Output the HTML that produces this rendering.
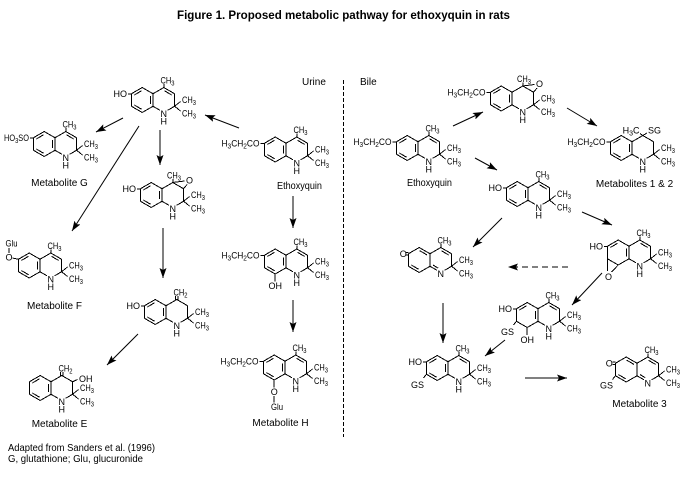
<!DOCTYPE html>
<html><head><meta charset="utf-8"><style>
html,body{margin:0;padding:0;background:#fff;}
svg{display:block;}
text{font-family:"Liberation Sans",Arial,sans-serif;font-size:9px;fill:#000;}
.s{font-size:7px;}
.l{font-size:10px;}
.b{fill:none;stroke:#000;stroke-width:1;shape-rendering:crispEdges;}
</style></head><body>
<svg width="690" height="501" viewBox="0 0 690 501" xmlns="http://www.w3.org/2000/svg">
<defs>
<marker id="ah" viewBox="0 0 10 7" refX="10" refY="3.5" markerWidth="10" markerHeight="7" markerUnits="userSpaceOnUse" orient="auto"><path d="M0,0L10,3.5L0,7L2,3.5z" fill="#000"/></marker>
<path id="bz" class="b" d="M0,-6.25L-10.8,-12.5L-21.6,-6.25L-21.6,6.25L-10.8,12.5L0,6.25Z M-11.3,-9.3L-18.6,-5.1 M-18.6,5.1L-11.3,9.3 M-2.5,-4.2V4.2"/>
<path id="bq" class="b" d="M0,-6.25L-10.8,-12.5L-21.6,-6.25L-21.6,6.25L-10.8,12.5L0,6.25Z M-10.3,-9.3L-3,-5.1 M-18.6,5.1L-11.3,9.3"/>
<path id="be" class="b" d="M0,-6.25L-10.8,-12.5L-21.6,-6.25L-21.6,6.25L-10.8,12.5L0,6.25Z M-11.3,-9.3L-18.6,-5.1 M-2.5,-4.2V4.2"/>
<path id="rd" class="b" d="M0,-6.25L10.8,-12.5L21.6,-6.25L21.6,6.25L14.7,10.25 M0,6.25L6.9,10.25 M11.3,-9.3L18.6,-5.1 M21.6,6.25L27.5,1.5 M21.6,6.25L27.5,11"/>
<path id="rt" class="b" d="M0,-6.25L10.8,-12.5L21.6,-6.25L21.6,6.25L14.7,10.25 M0,6.25L6.9,10.25 M21.6,6.25L27.5,1.5 M21.6,6.25L27.5,11"/>
<path id="rq" class="b" d="M0,-6.25L10.8,-12.5L21.6,-6.25L21.6,6.25L14.7,10.25 M0,6.25L6.9,10.25 M11.3,-9.3L18.6,-5.1 M3,5.1L8.2,8.1 M21.6,6.25L27.5,1.5 M21.6,6.25L27.5,11"/>
<path id="m4" class="b" d="M10.8,-12.5V-16"/>
<path id="c2" class="b" d="M9.6,-12V-16 M12,-12V-16"/>
<path id="o6" class="b" d="M-25,-6.25H-21.6"/>
<path id="e6" class="b" d="M-25.5,-6.25H-21.6"/>
</defs>
<rect width="690" height="501" fill="#fff"/>

<text x="177" y="19" font-weight="bold" style="font-size:11.5px" textLength="333" lengthAdjust="spacingAndGlyphs">Figure 1.  Proposed metabolic pathway for ethoxyquin in rats</text>

<text class="l" x="302" y="85">Urine</text>
<text class="l" x="360" y="85">Bile</text>
<path class="b" d="M343.5,80V437" stroke-dasharray="4 2"/>

<!-- arrows -->
<g class="b" marker-end="url(#ah)" style="shape-rendering:auto">
<path d="M239,128L205,115"/>
<path d="M123,118L96,132"/>
<path d="M139,126L72,231"/>
<path d="M160,130L160,165"/>
<path d="M163,228L163,278"/>
<path d="M138,334L107,365"/>
<path d="M293,196L293,228"/>
<path d="M293,300L293,332"/>
<path d="M453,126L483,112"/>
<path d="M567,108L597,126"/>
<path d="M475,158L497,170"/>
<path d="M582,212L612,225"/>
<path d="M502,218L473,247"/>
<path d="M568,267L508,267" stroke-dasharray="6 4"/>
<path d="M602,273L572,305"/>
<path d="M443,303L443,343"/>
<path d="M505,340L485,356"/>
<path d="M525,378L567,378"/>
</g>

<!-- U1 6-hydroxy (urine) -->
<g transform="translate(153,100)">
<use href="#bz"/><use href="#rd"/><use href="#m4"/><use href="#o6"/>
<text x="-26" y="-3" text-anchor="end">HO</text>
<text x="7.5" y="-16.5" textLength="14" lengthAdjust="spacingAndGlyphs">CH<tspan class="s" dy="2">3</tspan></text>
<text x="29" y="3" textLength="14" lengthAdjust="spacingAndGlyphs">CH<tspan class="s" dy="2">3</tspan></text>
<text x="29" y="16.3" textLength="14" lengthAdjust="spacingAndGlyphs">CH<tspan class="s" dy="2">3</tspan></text>
<text x="10.8" y="17" text-anchor="middle">N</text>
<text x="10.8" y="24.5" text-anchor="middle">H</text>
</g>

<!-- U2 Metabolite G -->
<g transform="translate(55,144)">
<use href="#bz"/><use href="#rd"/><use href="#m4"/><use href="#o6"/>
<text x="-51" y="-3" textLength="25" lengthAdjust="spacingAndGlyphs">HO<tspan class="s" dy="2">3</tspan><tspan dy="-2">SO</tspan></text>
<text x="7.5" y="-16.5" textLength="14" lengthAdjust="spacingAndGlyphs">CH<tspan class="s" dy="2">3</tspan></text>
<text x="29" y="3" textLength="14" lengthAdjust="spacingAndGlyphs">CH<tspan class="s" dy="2">3</tspan></text>
<text x="29" y="16.3" textLength="14" lengthAdjust="spacingAndGlyphs">CH<tspan class="s" dy="2">3</tspan></text>
<text x="10.8" y="17" text-anchor="middle">N</text>
<text x="10.8" y="24.5" text-anchor="middle">H</text>
</g>
<text class="l" x="59.5" y="186" text-anchor="middle">Metabolite  G</text>

<!-- U3 epoxide (urine) -->
<g transform="translate(162,195)">
<use href="#bz"/><use href="#rt"/><use href="#m4"/><use href="#o6"/>
<path class="b" d="M10.8,-12.5L22.5,-14M21.6,-6.25L25,-10.5"/>
<text x="27.5" y="-11.5" text-anchor="middle">O</text>
<text x="5" y="-16.5" textLength="14" lengthAdjust="spacingAndGlyphs">CH<tspan class="s" dy="2">3</tspan></text>
<text x="-26" y="-3" text-anchor="end">HO</text>
<text x="29" y="3" textLength="14" lengthAdjust="spacingAndGlyphs">CH<tspan class="s" dy="2">3</tspan></text>
<text x="29" y="16.3" textLength="14" lengthAdjust="spacingAndGlyphs">CH<tspan class="s" dy="2">3</tspan></text>
<text x="10.8" y="17" text-anchor="middle">N</text>
<text x="10.8" y="24.5" text-anchor="middle">H</text>
</g>

<!-- U4 Metabolite F -->
<g transform="translate(40,265.5)">
<use href="#bz"/><use href="#rd"/><use href="#m4"/>
<path class="b" d="M-27.5,-7.5L-21.6,-6.25 M-31,-12.5V-17.5"/>
<text x="-31" y="-5" text-anchor="middle">O</text>
<text x="-34.5" y="-19" textLength="12" lengthAdjust="spacingAndGlyphs">Glu</text>
<text x="7.5" y="-16.5" textLength="14" lengthAdjust="spacingAndGlyphs">CH<tspan class="s" dy="2">3</tspan></text>
<text x="29" y="3" textLength="14" lengthAdjust="spacingAndGlyphs">CH<tspan class="s" dy="2">3</tspan></text>
<text x="29" y="16.3" textLength="14" lengthAdjust="spacingAndGlyphs">CH<tspan class="s" dy="2">3</tspan></text>
<text x="10.8" y="17" text-anchor="middle">N</text>
<text x="10.8" y="24.5" text-anchor="middle">H</text>
</g>
<text class="l" x="54.5" y="309" text-anchor="middle">Metabolite  F</text>

<!-- U5 4-methylene (urine) -->
<g transform="translate(166,312)">
<use href="#bz"/><use href="#rt"/><use href="#c2"/><use href="#o6"/>
<text x="-26" y="-3" text-anchor="end">HO</text>
<text x="7.5" y="-16.5" textLength="14" lengthAdjust="spacingAndGlyphs">CH<tspan class="s" dy="2">2</tspan></text>
<text x="29" y="3" textLength="14" lengthAdjust="spacingAndGlyphs">CH<tspan class="s" dy="2">3</tspan></text>
<text x="29" y="16.3" textLength="14" lengthAdjust="spacingAndGlyphs">CH<tspan class="s" dy="2">3</tspan></text>
<text x="10.8" y="17" text-anchor="middle">N</text>
<text x="10.8" y="24.5" text-anchor="middle">H</text>
</g>

<!-- U6 Metabolite E -->
<g transform="translate(51,388)">
<use href="#bz"/><use href="#rt"/><use href="#c2"/>
<path class="b" d="M21.6,-6.25L26.5,-8.5"/>
<text x="28" y="-6">OH</text>
<text x="7.5" y="-16.5" textLength="14" lengthAdjust="spacingAndGlyphs">CH<tspan class="s" dy="2">2</tspan></text>
<text x="29" y="3" textLength="14" lengthAdjust="spacingAndGlyphs">CH<tspan class="s" dy="2">3</tspan></text>
<text x="29" y="16.3" textLength="14" lengthAdjust="spacingAndGlyphs">CH<tspan class="s" dy="2">3</tspan></text>
<text x="10.8" y="17" text-anchor="middle">N</text>
<text x="10.8" y="24.5" text-anchor="middle">H</text>
</g>
<text class="l" x="59.5" y="427" text-anchor="middle">Metabolite  E</text>

<!-- U7 Ethoxyquin (urine) -->
<g transform="translate(286,149.5)">
<use href="#bz"/><use href="#rd"/><use href="#m4"/><use href="#e6"/>
<text x="-64.5" y="-3" textLength="38" lengthAdjust="spacingAndGlyphs">H<tspan class="s" dy="2">3</tspan><tspan dy="-2">CH</tspan><tspan class="s" dy="2">2</tspan><tspan dy="-2">CO</tspan></text>
<text x="7.5" y="-16.5" textLength="14" lengthAdjust="spacingAndGlyphs">CH<tspan class="s" dy="2">3</tspan></text>
<text x="29" y="3" textLength="14" lengthAdjust="spacingAndGlyphs">CH<tspan class="s" dy="2">3</tspan></text>
<text x="29" y="16.3" textLength="14" lengthAdjust="spacingAndGlyphs">CH<tspan class="s" dy="2">3</tspan></text>
<text x="10.8" y="17" text-anchor="middle">N</text>
<text x="10.8" y="24.5" text-anchor="middle">H</text>
</g>
<text class="l" x="299.5" y="189" text-anchor="middle" textLength="45" lengthAdjust="spacingAndGlyphs">Ethoxyquin</text>

<!-- U8 8-hydroxy ethoxyquin -->
<g transform="translate(286,261.5)">
<use href="#bz"/><use href="#rd"/><use href="#m4"/><use href="#e6"/>
<path class="b" d="M-10.8,12.5V20"/>
<text x="-10.8" y="27.5" text-anchor="middle">OH</text>
<text x="-64.5" y="-3" textLength="38" lengthAdjust="spacingAndGlyphs">H<tspan class="s" dy="2">3</tspan><tspan dy="-2">CH</tspan><tspan class="s" dy="2">2</tspan><tspan dy="-2">CO</tspan></text>
<text x="7.5" y="-16.5" textLength="14" lengthAdjust="spacingAndGlyphs">CH<tspan class="s" dy="2">3</tspan></text>
<text x="29" y="3" textLength="14" lengthAdjust="spacingAndGlyphs">CH<tspan class="s" dy="2">3</tspan></text>
<text x="29" y="16.3" textLength="14" lengthAdjust="spacingAndGlyphs">CH<tspan class="s" dy="2">3</tspan></text>
<text x="10.8" y="17" text-anchor="middle">N</text>
<text x="10.8" y="24.5" text-anchor="middle">H</text>
</g>

<!-- U9 Metabolite H -->
<g transform="translate(285,367.5)">
<use href="#bz"/><use href="#rd"/><use href="#m4"/><use href="#e6"/>
<path class="b" d="M-10.8,12.5V20 M-10.8,28.5V35"/>
<text x="-10.8" y="27.5" text-anchor="middle">O</text>
<text x="-14" y="42.5" textLength="12" lengthAdjust="spacingAndGlyphs">Glu</text>
<text x="-64.5" y="-3" textLength="38" lengthAdjust="spacingAndGlyphs">H<tspan class="s" dy="2">3</tspan><tspan dy="-2">CH</tspan><tspan class="s" dy="2">2</tspan><tspan dy="-2">CO</tspan></text>
<text x="7.5" y="-16.5" textLength="14" lengthAdjust="spacingAndGlyphs">CH<tspan class="s" dy="2">3</tspan></text>
<text x="29" y="3" textLength="14" lengthAdjust="spacingAndGlyphs">CH<tspan class="s" dy="2">3</tspan></text>
<text x="29" y="16.3" textLength="14" lengthAdjust="spacingAndGlyphs">CH<tspan class="s" dy="2">3</tspan></text>
<text x="10.8" y="17" text-anchor="middle">N</text>
<text x="10.8" y="24.5" text-anchor="middle">H</text>
</g>
<text class="l" x="280.5" y="426" text-anchor="middle">Metabolite  H</text>

<!-- B1 Ethoxyquin (bile) -->
<g transform="translate(418,148)">
<use href="#bz"/><use href="#rd"/><use href="#m4"/><use href="#e6"/>
<text x="-64.5" y="-3" textLength="38" lengthAdjust="spacingAndGlyphs">H<tspan class="s" dy="2">3</tspan><tspan dy="-2">CH</tspan><tspan class="s" dy="2">2</tspan><tspan dy="-2">CO</tspan></text>
<text x="7.5" y="-16.5" textLength="14" lengthAdjust="spacingAndGlyphs">CH<tspan class="s" dy="2">3</tspan></text>
<text x="29" y="3" textLength="14" lengthAdjust="spacingAndGlyphs">CH<tspan class="s" dy="2">3</tspan></text>
<text x="29" y="16.3" textLength="14" lengthAdjust="spacingAndGlyphs">CH<tspan class="s" dy="2">3</tspan></text>
<text x="10.8" y="17" text-anchor="middle">N</text>
<text x="10.8" y="24.5" text-anchor="middle">H</text>
</g>
<text class="l" x="429.5" y="186" text-anchor="middle" textLength="45" lengthAdjust="spacingAndGlyphs">Ethoxyquin</text>

<!-- B2 epoxide (bile) -->
<g transform="translate(512,98.5)">
<use href="#bz"/><use href="#rt"/><use href="#m4"/><use href="#e6"/>
<path class="b" d="M10.8,-12.5L22.5,-14M21.6,-6.25L25,-10.5"/>
<text x="27.5" y="-11.5" text-anchor="middle">O</text>
<text x="-64.5" y="-3" textLength="38" lengthAdjust="spacingAndGlyphs">H<tspan class="s" dy="2">3</tspan><tspan dy="-2">CH</tspan><tspan class="s" dy="2">2</tspan><tspan dy="-2">CO</tspan></text>
<text x="5" y="-16.5" textLength="14" lengthAdjust="spacingAndGlyphs">CH<tspan class="s" dy="2">3</tspan></text>
<text x="29" y="3" textLength="14" lengthAdjust="spacingAndGlyphs">CH<tspan class="s" dy="2">3</tspan></text>
<text x="29" y="16.3" textLength="14" lengthAdjust="spacingAndGlyphs">CH<tspan class="s" dy="2">3</tspan></text>
<text x="10.8" y="17" text-anchor="middle">N</text>
<text x="10.8" y="24.5" text-anchor="middle">H</text>
</g>

<!-- B3 Metabolites 1 & 2 -->
<g transform="translate(632,148)">
<use href="#bz"/><use href="#rt"/><use href="#e6"/>
<path class="b" d="M10.8,-12.5L8,-14.5 M10.8,-12.5L15,-15"/>
<text x="7.5" y="-14.5" text-anchor="end">H<tspan class="s" dy="2">3</tspan><tspan dy="-2">C</tspan></text>
<text x="16" y="-14.5">SG</text>
<text x="-64.5" y="-3" textLength="38" lengthAdjust="spacingAndGlyphs">H<tspan class="s" dy="2">3</tspan><tspan dy="-2">CH</tspan><tspan class="s" dy="2">2</tspan><tspan dy="-2">CO</tspan></text>
<text x="29" y="3" textLength="14" lengthAdjust="spacingAndGlyphs">CH<tspan class="s" dy="2">3</tspan></text>
<text x="29" y="16.3" textLength="14" lengthAdjust="spacingAndGlyphs">CH<tspan class="s" dy="2">3</tspan></text>
<text x="10.8" y="17" text-anchor="middle">N</text>
<text x="10.8" y="24.5" text-anchor="middle">H</text>
</g>
<text class="l" x="634.5" y="187" text-anchor="middle">Metabolites  1 &amp; 2</text>

<!-- B4 6-hydroxy (bile) -->
<g transform="translate(528,194)">
<use href="#bz"/><use href="#rd"/><use href="#m4"/><use href="#o6"/>
<text x="-26" y="-3" text-anchor="end">HO</text>
<text x="7.5" y="-16.5" textLength="14" lengthAdjust="spacingAndGlyphs">CH<tspan class="s" dy="2">3</tspan></text>
<text x="29" y="3" textLength="14" lengthAdjust="spacingAndGlyphs">CH<tspan class="s" dy="2">3</tspan></text>
<text x="29" y="16.3" textLength="14" lengthAdjust="spacingAndGlyphs">CH<tspan class="s" dy="2">3</tspan></text>
<text x="10.8" y="17" text-anchor="middle">N</text>
<text x="10.8" y="24.5" text-anchor="middle">H</text>
</g>

<!-- B5 quinone imine -->
<g transform="translate(430,260)">
<use href="#bq"/><use href="#rq"/><use href="#m4"/>
<path class="b" d="M-24,-7.4H-21.6 M-24,-5.1H-21.6"/>
<text x="-26.8" y="-3" text-anchor="middle">O</text>
<text x="7.5" y="-16.5" textLength="14" lengthAdjust="spacingAndGlyphs">CH<tspan class="s" dy="2">3</tspan></text>
<text x="29" y="3" textLength="14" lengthAdjust="spacingAndGlyphs">CH<tspan class="s" dy="2">3</tspan></text>
<text x="29" y="16.3" textLength="14" lengthAdjust="spacingAndGlyphs">CH<tspan class="s" dy="2">3</tspan></text>
<text x="10.8" y="17" text-anchor="middle">N</text>
</g>

<!-- B6 arene oxide -->
<g transform="translate(629,252.5)">
<use href="#be"/><use href="#rd"/><use href="#m4"/><use href="#o6"/>
<path class="b" d="M-21.6,6.25V18.5 M-10.8,12.5L-17.5,19.5"/>
<text x="-20.5" y="27.5" text-anchor="middle">O</text>
<text x="-26" y="-3" text-anchor="end">HO</text>
<text x="7.5" y="-16.5" textLength="14" lengthAdjust="spacingAndGlyphs">CH<tspan class="s" dy="2">3</tspan></text>
<text x="29" y="3" textLength="14" lengthAdjust="spacingAndGlyphs">CH<tspan class="s" dy="2">3</tspan></text>
<text x="29" y="16.3" textLength="14" lengthAdjust="spacingAndGlyphs">CH<tspan class="s" dy="2">3</tspan></text>
<text x="10.8" y="17" text-anchor="middle">N</text>
<text x="10.8" y="24.5" text-anchor="middle">H</text>
</g>

<!-- B7 GS diol -->
<g transform="translate(538,315)">
<use href="#be"/><use href="#rd"/><use href="#m4"/><use href="#o6"/>
<path class="b" d="M-21.6,6.25L-24.5,10 M-10.8,12.5V20"/>
<text x="-24" y="20" text-anchor="end">GS</text>
<text x="-10.8" y="28" text-anchor="middle">OH</text>
<text x="-26" y="-3" text-anchor="end">HO</text>
<text x="7.5" y="-16.5" textLength="14" lengthAdjust="spacingAndGlyphs">CH<tspan class="s" dy="2">3</tspan></text>
<text x="29" y="3" textLength="14" lengthAdjust="spacingAndGlyphs">CH<tspan class="s" dy="2">3</tspan></text>
<text x="29" y="16.3" textLength="14" lengthAdjust="spacingAndGlyphs">CH<tspan class="s" dy="2">3</tspan></text>
<text x="10.8" y="17" text-anchor="middle">N</text>
<text x="10.8" y="24.5" text-anchor="middle">H</text>
</g>

<!-- B8 GS hydroxy -->
<g transform="translate(448,368)">
<use href="#bz"/><use href="#rd"/><use href="#m4"/><use href="#o6"/>
<path class="b" d="M-21.6,6.25L-24.5,10"/>
<text x="-24" y="20" text-anchor="end">GS</text>
<text x="-26" y="-3" text-anchor="end">HO</text>
<text x="7.5" y="-16.5" textLength="14" lengthAdjust="spacingAndGlyphs">CH<tspan class="s" dy="2">3</tspan></text>
<text x="29" y="3" textLength="14" lengthAdjust="spacingAndGlyphs">CH<tspan class="s" dy="2">3</tspan></text>
<text x="29" y="16.3" textLength="14" lengthAdjust="spacingAndGlyphs">CH<tspan class="s" dy="2">3</tspan></text>
<text x="10.8" y="17" text-anchor="middle">N</text>
<text x="10.8" y="24.5" text-anchor="middle">H</text>
</g>

<!-- B9 Metabolite 3 -->
<g transform="translate(637,369.5)">
<use href="#bq"/><use href="#rq"/><use href="#m4"/>
<path class="b" d="M-24.5,-7.4H-21.6 M-24.5,-5.1H-21.6 M-21.6,6.25L-24.5,10"/>
<text x="-27.8" y="-3" text-anchor="middle">O</text>
<text x="-24" y="19" text-anchor="end">GS</text>
<text x="7.5" y="-16.5" textLength="14" lengthAdjust="spacingAndGlyphs">CH<tspan class="s" dy="2">3</tspan></text>
<text x="29" y="3" textLength="14" lengthAdjust="spacingAndGlyphs">CH<tspan class="s" dy="2">3</tspan></text>
<text x="29" y="16.3" textLength="14" lengthAdjust="spacingAndGlyphs">CH<tspan class="s" dy="2">3</tspan></text>
<text x="10.8" y="17" text-anchor="middle">N</text>
</g>
<text class="l" x="639.5" y="407" text-anchor="middle">Metabolite  3</text>

<!-- footer -->
<text class="l" x="8" y="451" textLength="147" lengthAdjust="spacingAndGlyphs">Adapted from Sanders  et  al. (1996)</text>
<text class="l" x="8" y="462" textLength="135" lengthAdjust="spacingAndGlyphs">G, glutathione;  Glu, glucuronide</text>
</svg>
</body></html>
